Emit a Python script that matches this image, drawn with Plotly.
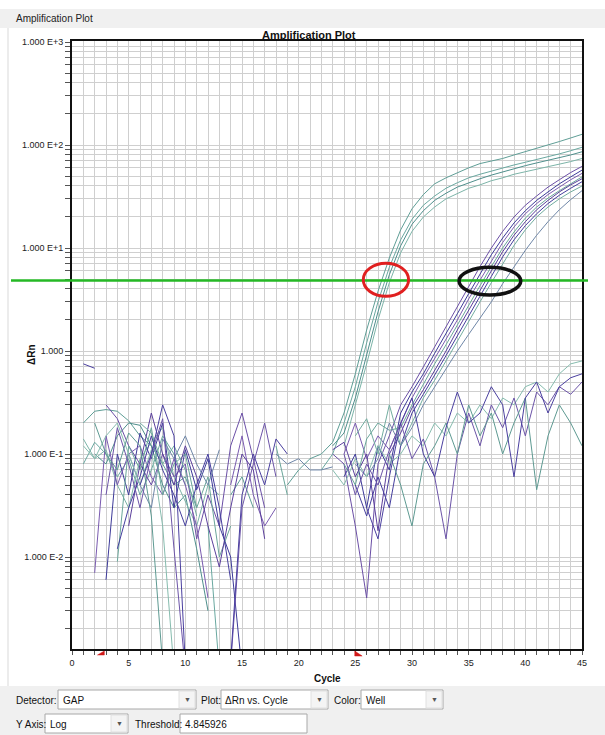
import plotly.graph_objects as go

_ = None

cycles = list(range(1, 46))
threshold = 4.845926

# Delta Rn per well, cycles 1..45 (None = value not drawn on the log scale)
well_e1 = [0.2, 0.26, 0.27, 0.26, 0.21, 0.15, 0.12, 0.08, 0.05, 0.06,
           0.03, _, _, 0.04, 0.06, 0.03, _, _, 0.05, 0.07,
           0.09, 0.1, 0.13, 0.25, 0.6, 1.6, 3.8, 8, 15, 24,
           33, 42, 48, 54, 60, 66, 70, 74, 80, 86,
           93, 100, 108, 117, 127]
well_e2 = [0.08, 0.13, 0.1, 0.06, 0.09, 0.04, 0.07, 0.15, 0.1, 0.05,
           _, 0.02, 0.0008, _, _, _, _, _, _, _,
           _, 0.07, 0.1, 0.2, 0.45, 1.2, 3.0, 6.5, 12, 19,
           26, 32, 38, 43, 48, 52, 56, 60, 64, 68,
           72, 77, 82, 88, 95]
well_e3 = [_, 0.1, 0.08, 0.15, 0.2, 0.19, 0.12, 0.05, 0.03, 0.04,
           0.012, 0.003, _, _, _, _, _, _, _, _,
           _, _, 0.12, 0.16, 0.35, 0.9, 2.4, 5.5, 10.5, 17,
           23, 29, 34, 39, 43, 47, 51, 55, 59, 63,
           67, 71, 75, 80, 86]
well_e4 = [0.14, 0.09, 0.11, 0.05, 0.03, 0.09, 0.13, 0.18, 0.06, 0.035,
           0.02, 0.05, 0.04, _, _, _, _, _, _, _,
           _, _, _, 0.12, 0.3, 0.75, 2.0, 4.6, 9, 14.5,
           20, 25, 30, 34, 38, 41, 45, 48, 52, 55,
           58, 62, 65, 69, 74]
well_l1 = [_, _, 0.3, 0.22, 0.12, 0.08, 0.05, 0.1, 0.06, 0.08,
           0.015, 0.04, 0.02, 0.12, 0.25, 0.09, 0.03, _, _, _,
           _, _, 0.1, 0.08, 0.02, 0.004, 0.08, 0.15, 0.3, 0.45,
           0.7, 1.1, 1.7, 2.7, 4.3, 6.6, 10, 14.5, 20, 26,
           32, 39, 46, 54, 62]
well_l2 = [_, _, 0.006, 0.1, 0.04, 0.16, 0.09, 0.2, 0.03, 0.11,
           0.045, 0.09, 0.02, 0.01, 0.0008, _, _, _, _, _,
           _, _, _, 0.06, 0.1, 0.03, 0.12, 0.07, 0.25, 0.4,
           0.6, 0.95, 1.5, 2.3, 3.6, 5.6, 8.6, 12.5, 17.5, 23,
           29, 35, 42, 49, 57]
well_l3 = [_, 0.007, 0.15, 0.05, 0.1, 0.12, 0.06, 0.04, 0.09, 0.05,
           0.02, 0.004, _, 0.05, 0.15, 0.04, 0.02, 0.03, _, _,
           _, _, _, 0.1, 0.2, 0.09, 0.15, 0.11, 0.2, 0.35,
           0.55, 0.85, 1.3, 2.0, 3.2, 4.9, 7.6, 11.3, 16, 21.5,
           27, 33, 39, 46, 53]
well_l4 = [_, _, _, 0.009, 0.12, 0.07, 0.18, 0.04, 0.08, 0.1,
           0.03, 0.06, 0.01, 0.02, _, _, _, 0.12, 0.04, _,
           _, _, _, 0.08, 0.05, 0.14, 0.2, 0.17, 0.18, 0.3,
           0.48, 0.75, 1.15, 1.8, 2.8, 4.3, 6.6, 10, 14.3, 19.5,
           25, 30.5, 36, 42, 49]
well_l5 = [_, _, _, _, 0.02, 0.08, 0.25, 0.1, 0.05, 0.12,
           0.06, 0.02, 0.008, 0.03, 0.1, 0.07, 0.015, _, _, _,
           _, _, 0.11, 0.13, 0.06, 0.1, 0.018, 0.1, 0.16, 0.28,
           0.42, 0.65, 1.0, 1.6, 2.5, 3.9, 6.0, 9.2, 13.3, 18,
           23.5, 29, 35, 41, 47]
well_l6 = [_, _, _, 0.012, 0.03, 0.06, 0.15, 0.07, 0.04, 0.02,
           0.05, 0.1, 0.03, 0.006, _, _, _, _, _, _,
           _, _, _, _, 0.05, 0.025, 0.06, 0.03, 0.12, 0.25,
           0.38, 0.58, 0.9, 1.4, 2.2, 3.4, 5.3, 8.2, 12, 16.5,
           21.5, 27, 32.5, 38, 44]
well_l7 = [_, _, _, _, _, 0.2, 0.16, 0.08, 0.12, 0.07,
           0.025, _, _, _, _, _, _, _, _, _,
           _, _, _, _, 0.15, 0.22, 0.1, 0.3, 0.12, 0.2,
           0.35, 0.52, 0.8, 1.25, 1.95, 3.0, 4.6, 7.1, 10.6, 15,
           20, 25, 30, 35, 40]
well_l8 = [_, _, _, _, 0.1, 0.05, 0.03, 0.14, 0.09, 0.15,
           0.08, 0.05, 0.11, _, _, _, _, 0.1, 0.08, 0.09,
           0.07, 0.07, 0.075, _, 0.08, 0.06, 0.09, 0.2, 0.12, 0.18,
           0.3, 0.45, 0.68, 1.0, 1.45, 2.1, 3.0, 4.5, 6.6, 9.5,
           13.3, 18, 23.5, 29.5, 36]
well_n1 = [0.12, 0.09, 0.15, 0.2, 0.1, 0.05, 0.11, 0.02, 0.0008, _,
           _, _, _, _, _, _, _, _, _, _,
           _, _, 0.07, 0.05, 0.09, 0.06, 0.12, 0.08, 0.1, 0.15,
           0.12, 0.2, 0.15, 0.25, 0.2, 0.3, 0.22, 0.35, 0.3, 0.45,
           0.5, 0.4, 0.6, 0.75, 0.8]
well_n2 = [_, _, 0.04, 0.18, 0.08, 0.03, 0.1, 0.22, 0.012, 0.0008,
           _, _, _, 0.0009, 0.03, 0.08, 0.2, 0.06, _, _,
           _, _, _, 0.1, 0.04, 0.08, 0.05, 0.11, 0.2, 0.09,
           0.14, 0.06, 0.015, 0.1, 0.25, 0.12, 0.3, 0.18, 0.35, 0.15,
           0.4, 0.3, 0.45, 0.38, 0.5]
well_n3 = [_, 0.2, 0.1, 0.07, 0.16, 0.12, 0.025, 0.0009, _, _,
           _, _, _, _, _, _, _, _, _, _,
           _, _, _, _, _, _, _, 0.1, 0.05, 0.02,
           0.08, 0.12, 0.2, 0.1, 0.3, 0.15, 0.25, 0.1, 0.2, 0.35,
           0.045, 0.15, 0.3, 0.2, 0.12]
well_n4 = [0.75, 0.68, _, _, _, 0.05, 0.1, 0.3, 0.15, 0.0009,
           _, _, _, 0.001, 0.04, 0.1, 0.05, 0.14, 0.1, _,
           _, _, _, _, _, 0.03, 0.015, 0.06, 0.2, 0.35,
           0.1, 0.06, 0.18, 0.4, 0.2, 0.25, 0.45, 0.3, 0.06, 0.35,
           0.5, 0.25, 0.45, 0.55, 0.6]

wells = [
    (well_e1, "#5f9e96"), (well_e2, "#6aa8a0"), (well_e3, "#4f8f8c"), (well_e4, "#7cb4a8"),
    (well_l1, "#6b4fa6"), (well_l2, "#3d3a99"), (well_l3, "#7a5bb0"), (well_l4, "#6aa69a"),
    (well_l5, "#5b3f9c"), (well_l6, "#453e9e"), (well_l7, "#72ada0"), (well_l8, "#6f87a8"),
    (well_n1, "#86bcae"), (well_n2, "#6c54a8"), (well_n3, "#5e9a92"), (well_n4, "#4a3f9f"),
]

y_decades = [1e-2, 1e-1, 1, 10, 100, 1000]
y_tick_labels = ["1.000 E-2", "1.000 E-1", "1.000", "1.000 E+1", "1.000 E+2", "1.000 E+3"]
x_label_every = 5

# ellipses around the threshold crossings: (cycle from, cycle to, dRn low, dRn high)
early_zone = (25.7, 29.7, 3.4, 7.1)
late_zone = (34.15, 39.6, 3.5, 6.5)

FONT = "Liberation Sans, Arial, sans-serif"

# canvas geometry (plot area in pixels)
W, H = 605, 735
L, R, T, B = 72, 582, 41, 649


def px(xp):
    return (xp - L) / (R - L)


def py(yp):
    return (B - yp) / (B - T)


fig = go.Figure()
for vals, col in wells:
    fig.add_trace(go.Scatter(x=cycles, y=vals, mode="lines",
                             line=dict(color=col, width=1), connectgaps=False,
                             showlegend=False, hoverinfo="skip"))

# y ticks: gridline at every 1..9 of each decade, label only on decades
y_tickvals, y_ticktext = [], []
for k in range(-3, 4):
    for d in range(1, 10):
        v = d * 10 ** k
        if v > 1000:
            break
        y_tickvals.append(v)
        if d == 1 and v in y_decades:
            y_ticktext.append(y_tick_labels[y_decades.index(v)])
        else:
            y_ticktext.append("")

x_tickvals = list(range(0, 46))
x_ticktext = [str(v) if v % x_label_every == 0 else "" for v in x_tickvals]

fig.update_xaxes(range=[0, 45], tickvals=x_tickvals, ticktext=x_ticktext,
                 showgrid=True, gridcolor="#cfcfcf", gridwidth=1,
                 ticks="outside", ticklen=4, tickcolor="#555",
                 showline=True, linecolor="#111", linewidth=2, mirror=True,
                 zeroline=False, tickfont=dict(size=9, family=FONT, color="#222"))
fig.update_yaxes(type="log", range=[(351 - B) / 103, (351 - T) / 103],
                 tickvals=y_tickvals, ticktext=y_ticktext,
                 showgrid=True, gridcolor="#cfcfcf", gridwidth=1,
                 ticks="outside", ticklen=5, tickcolor="#555",
                 showline=True, linecolor="#111", linewidth=2, mirror=True,
                 zeroline=False, tickfont=dict(size=9, family=FONT, color="#222"))

shapes = []
# window chrome
shapes.append(dict(type="rect", xref="paper", yref="paper", x0=px(0), x1=px(W), y0=py(9), y1=py(28),
                   fillcolor="#f0f0f0", line=dict(width=0), layer="below"))
shapes.append(dict(type="rect", xref="paper", yref="paper", x0=px(0), x1=px(W), y0=py(686), y1=py(H + 2),
                   fillcolor="#f0f0f0", line=dict(width=0), layer="below"))
shapes.append(dict(type="line", xref="paper", yref="paper", x0=px(8), x1=px(8), y0=py(28), y1=py(686),
                   line=dict(color="#d9d9d9", width=1)))

# threshold line
shapes.append(dict(type="line", xref="paper", yref="y", x0=px(11), x1=px(588), y0=threshold, y1=threshold,
                   line=dict(color="#25b825", width=2.5)))

# highlighted crossing regions
for (c0, c1, v0, v1), col, lw in ((early_zone, "#e02020", 3), (late_zone, "#111", 3.5)):
    shapes.append(dict(type="circle", xref="x", yref="y", x0=c0, x1=c1, y0=v0, y1=v1,
                       line=dict(color=col, width=lw)))

# baseline start / end markers
for c0, pts in ((2.8, [(-0.55, 655), (0.05, 655), (0.05, 651)]), (25.0, [(-0.05, 651), (-0.05, 656), (0.6, 656)])):
    path = "M " + " L ".join(f"{c0 + dx},{py(yy)}" for dx, yy in pts) + " Z"
    shapes.append(dict(type="path", xref="x", yref="paper", path=path,
                       fillcolor="#d01818", line=dict(color="#d01818", width=0.5)))

annotations = []


def text(xp, yp, s, size=10, bold=False, anchor="left", color="#111", angle=0):
    annotations.append(dict(x=px(xp), y=py(yp), xref="paper", yref="paper", text=f"<b>{s}</b>" if bold else s,
                            showarrow=False, xanchor=anchor, yanchor="middle", textangle=angle,
                            font=dict(size=size, family=FONT, color=color)))


def box(x0, x1, y0, y1, arrow=True):
    shapes.append(dict(type="rect", xref="paper", yref="paper", x0=px(x0), x1=px(x1), y0=py(y1), y1=py(y0),
                       fillcolor="white", line=dict(color="#a8a8a8", width=1)))
    if arrow:
        shapes.append(dict(type="rect", xref="paper", yref="paper", x0=px(x1 - 17), x1=px(x1 - 1),
                           y0=py(y1 - 1), y1=py(y0 + 1), fillcolor="#f4f4f4", line=dict(color="#e0e0e0", width=1)))
        text(x1 - 9, (y0 + y1) / 2, "▼", size=7, anchor="center", color="#555")


text(14, 18, "Amplification Plot", size=10, color="#222")
text(309, 35, "Amplification Plot", size=11, bold=True, anchor="center")
text((L + R) / 2, 678, "Cycle", size=10, bold=True, anchor="center")
text(31, 355, "ΔRn", size=10, bold=True, anchor="center", angle=-90)

# control row 1
box(58, 196, 690, 709)
text(14, 700, "Detector:", size=10)
text(61, 700, "GAP", size=10)
box(221, 328, 690, 709)
text(199, 700, "Plot:", size=10)
text(223, 700, "ΔRn vs. Cycle", size=10)
box(361, 443, 690, 709)
text(332, 700, "Color:", size=10)
text(364, 700, "Well", size=10)
# control row 2
box(45, 128, 714, 733)
text(14, 724, "Y Axis:", size=10)
text(48, 724, "Log", size=10)
box(180, 307, 714, 733, arrow=False)
text(133, 724, "Threshold:", size=10)
text(183, 724, f"{threshold:.6f}", size=10)

fig.update_layout(width=W, height=H, margin=dict(l=L, r=W - R, t=T, b=H - B),
                  paper_bgcolor="white", plot_bgcolor="white",
                  shapes=shapes, annotations=annotations, showlegend=False,
                  font=dict(family=FONT))

fig.write_html("out.html")
